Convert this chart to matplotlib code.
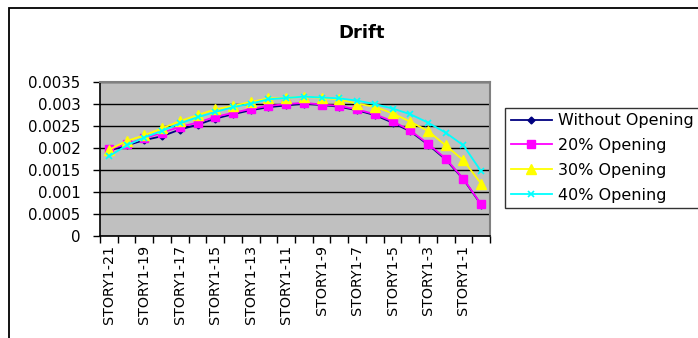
import matplotlib
matplotlib.use("Agg")
import matplotlib.pyplot as plt
from matplotlib.patches import Rectangle
from matplotlib.ticker import FixedLocator, MultipleLocator, FuncFormatter

plt.rcParams['font.family'] = ['DejaVu Sans']

# Storey labels, top storey first
stories = ["STORY1-%d" % n for n in range(21, -1, -1)]

without_opening = [0.00193, 0.00205, 0.00217, 0.00226, 0.00241, 0.00252, 0.00266,
                   0.00276, 0.00285, 0.00292, 0.00296, 0.00300, 0.00297, 0.00293,
                   0.00285, 0.00274, 0.00257, 0.00237, 0.00207, 0.00173, 0.00128,
                   0.00070]
opening_20 = [0.00196, 0.00208, 0.00221, 0.00234, 0.00247, 0.00257, 0.00270,
              0.00279, 0.00288, 0.00295, 0.00299, 0.00302, 0.00298, 0.00295,
              0.00287, 0.00276, 0.00260, 0.00239, 0.00209, 0.00175, 0.00129,
              0.00071]
opening_30 = [0.00195, 0.00215, 0.00228, 0.00244, 0.00260, 0.00274, 0.00287,
              0.00295, 0.00304, 0.00312, 0.00313, 0.00316, 0.00313, 0.00310,
              0.00300, 0.00293, 0.00278, 0.00259, 0.00238, 0.00205, 0.00171,
              0.00118]
opening_40 = [0.00180, 0.00205, 0.00223, 0.00238, 0.00255, 0.00269, 0.00281,
              0.00292, 0.00300, 0.00310, 0.00313, 0.00316, 0.00314, 0.00312,
              0.00307, 0.00299, 0.00289, 0.00276, 0.00257, 0.00234, 0.00205,
              0.00146]

series = [
    ("Without Opening", without_opening, "#000080", "D", 3.5),
    ("20% Opening", opening_20, "#FF00FF", "s", 5.2),
    ("30% Opening", opening_30, "#FFFF00", "^", 6.5),
    ("40% Opening", opening_40, "#00FFFF", "x", 4.5),
]

W, H = 698, 338
fig = plt.figure(figsize=(W / 100, H / 100), dpi=100)
fig.patch.set_facecolor("white")

# chart frame
fig.patches.append(Rectangle((9 / W, -0.1), 1.2, (H - 8.5) / H + 0.1,
                             transform=fig.transFigure, fill=False,
                             edgecolor="black", linewidth=1.3, zorder=0))

left, right, top, bottom = 100, 490, 81.7, 235.5
ax = fig.add_axes([left / W, 1 - bottom / H, (right - left) / W, (bottom - top) / H])
ax.set_facecolor("#C0C0C0")

x = list(range(len(stories)))
for name, vals, col, mk, ms in series:
    kw = dict(markeredgecolor=col, markerfacecolor=col)
    if mk == "x":
        kw["markeredgewidth"] = 1.2
    ax.plot(x, vals, color=col, linewidth=1.3, marker=mk, markersize=ms,
            label=name, clip_on=False, zorder=3, **kw)

ax.set_xlim(-0.5, len(stories) - 0.5)
ax.set_ylim(0, 0.0035)
ax.yaxis.set_major_locator(MultipleLocator(0.0005))
ax.yaxis.set_major_formatter(FuncFormatter(lambda v, p: "0" if v == 0 else ("%.4f" % v).rstrip("0")))
ax.grid(axis="y", color="black", linewidth=1.0)
ax.set_axisbelow(True)

# category boundaries carry the ticks, every other storey is labelled
ax.xaxis.set_major_locator(FixedLocator([i - 0.5 for i in range(len(stories) + 1)]))
ax.set_xticklabels([])
ax.xaxis.set_minor_locator(FixedLocator(x[::2]))
ax.set_xticklabels(stories[::2], minor=True, rotation=90, fontsize=10.3)
ax.tick_params(axis="x", which="minor", length=0, pad=7)
ax.tick_params(axis="x", which="major", length=5, width=1, direction="out")
ax.tick_params(axis="y", length=5, width=1, direction="out", pad=9, labelsize=10.8)

for s in ("top", "right"):
    ax.spines[s].set_color("#808080")
    ax.spines[s].set_linewidth(1.5)
for s in ("left", "bottom"):
    ax.spines[s].set_color("black")
    ax.spines[s].set_linewidth(1.2)

fig.text(362 / W, 1 - 33 / H, "Drift", ha="center", va="center",
         fontsize=13, fontweight="bold")

leg = ax.legend(loc="upper left", bbox_to_anchor=(505 / W, 1 - 107.5 / H),
                bbox_transform=fig.transFigure, borderaxespad=0,
                fontsize=11.5, frameon=True, fancybox=False, handlelength=2.6,
                handletextpad=0.35, labelspacing=0.62, borderpad=0.35)
leg.get_frame().set_edgecolor("black")
leg.get_frame().set_linewidth(1.0)

fig.savefig("out.png", dpi=100)
